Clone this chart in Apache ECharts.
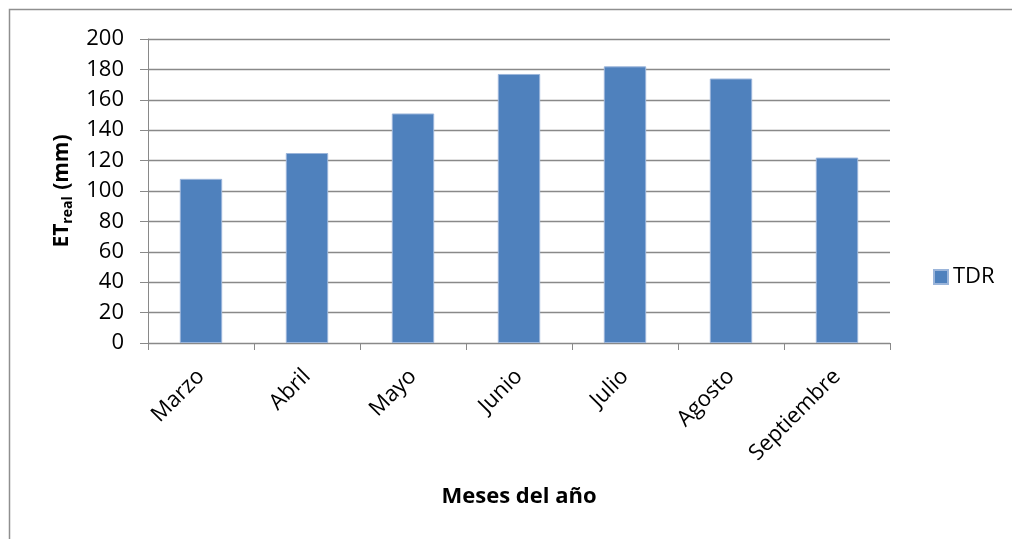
<!DOCTYPE html>
<html>
<head>
<meta charset="utf-8">
<script src="https://cdn.jsdelivr.net/npm/echarts@6/dist/echarts.min.js"></script>
<style>
  html, body { margin: 0; padding: 0; background: #fff; }
  #chart { width: 1012px; height: 539px; }
</style>
</head>
<body>
<div id="chart"></div>
<script>
// Monthly real evapotranspiration measured with TDR
const months = ['Marzo', 'Abril', 'Mayo', 'Junio', 'Julio', 'Agosto', 'Septiembre'];
const tdrValues = [108, 125, 151, 177, 182, 174, 122];
const seriesName = 'TDR';
const yTicks = { min: 0, max: 200, interval: 20 };

const FONT = '"Open Sans", Lato, sans-serif';
const GRID_GRAY = '#898989';

const chart = echarts.init(document.getElementById('chart'), null, { renderer: 'canvas' });

chart.setOption({
  backgroundColor: '#ffffff',
  animation: false,
  textStyle: { fontFamily: FONT, color: '#000' },
  graphic: [{
    type: 'rect',
    shape: { x: 9.5, y: 9.5, width: 1100, height: 600 },
    style: { fill: 'none', stroke: '#8f8f8f', lineWidth: 1.5 },
    silent: true
  }],
  grid: { left: 148, right: 122, top: 39, bottom: 196, containLabel: false },
  legend: {
    data: [seriesName],
    left: 928,
    top: 261,
    icon: 'rect',
    itemWidth: 14,
    itemHeight: 14,
    itemGap: 8,
    textStyle: { fontFamily: FONT, fontSize: 22, color: '#000' }
  },
  xAxis: {
    type: 'category',
    data: months,
    name: 'Meses del año',
    nameLocation: 'middle',
    nameGap: 143,
    nameTextStyle: { fontFamily: FONT, fontSize: 22, fontWeight: 'bold', color: '#000' },
    axisLine: { lineStyle: { color: GRID_GRAY, width: 1 } },
    axisTick: { show: true, length: 7, lineStyle: { color: GRID_GRAY } },
    axisLabel: {
      rotate: 45,
      margin: 30,
      fontFamily: FONT,
      fontSize: 22,
      color: '#000',
      interval: 0
    }
  },
  yAxis: {
    type: 'value',
    min: yTicks.min,
    max: yTicks.max,
    interval: yTicks.interval,
    name: '{a|ET}{b|real}{a| (mm)}',
    nameLocation: 'middle',
    nameRotate: 90,
    nameGap: 48,
    nameTextStyle: {
      rich: {
        a: { fontFamily: FONT, fontSize: 21, fontWeight: 'bold', color: '#000', lineHeight: 24, verticalAlign: 'top' },
        b: { fontFamily: FONT, fontSize: 14, fontWeight: 'bold', color: '#000', lineHeight: 14, verticalAlign: 'bottom', padding: [0, 1, 0, 0] }
      }
    },
    axisLine: { show: true, lineStyle: { color: GRID_GRAY, width: 1 } },
    axisTick: { show: true, length: 8, lineStyle: { color: GRID_GRAY } },
    axisLabel: { margin: 24, fontFamily: FONT, fontSize: 22, color: '#000' },
    splitLine: { show: true, lineStyle: { color: GRID_GRAY, width: 1.3 } }
  },
  series: [{
    name: seriesName,
    type: 'bar',
    data: tdrValues,
    barWidth: '40%',
    itemStyle: { color: '#4F81BD', borderColor: '#9bb5da', borderWidth: 1 }
  }]
});
</script>
</body>
</html>
